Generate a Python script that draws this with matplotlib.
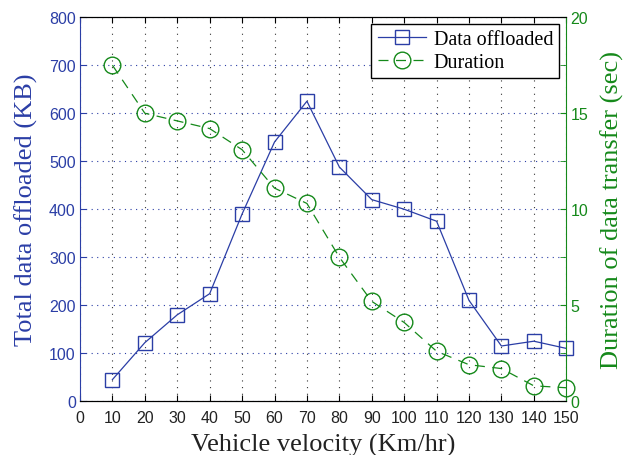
import matplotlib
matplotlib.use("Agg")
import matplotlib.pyplot as plt
from matplotlib.ticker import MultipleLocator

velocity = [10, 20, 30, 40, 50, 60, 70, 80, 90, 100, 110, 120, 130, 140, 150]
data_offloaded = [45, 122, 180, 224, 390, 540, 625, 488, 420, 400, 375, 210, 115, 125, 110]
duration = [17.5, 15.0, 14.6, 14.2, 13.1, 11.1, 10.3, 7.5, 5.2, 4.1, 2.6, 1.9, 1.7, 0.8, 0.7]

blue = "#2b3ea6"
green = "#15891a"

fig = plt.figure(figsize=(6.25, 4.56), dpi=100)
ax = fig.add_axes([0.128, 0.118, 0.778, 0.842])
ax2 = ax.twinx()

l1, = ax.plot(velocity, data_offloaded, color=blue, lw=0.9, marker="s", ms=10,
              mfc="none", mec=blue, mew=1.0, label="Data offloaded", clip_on=False, zorder=3)
l2, = ax2.plot(velocity, duration, color=green, lw=0.9, ls=(0, (8, 6)), marker="o", ms=12,
               mfc="none", mec=green, mew=1.0, label="Duration", clip_on=False, zorder=3)

ax.set_xlim(0, 150)
ax.set_ylim(0, 800)
ax2.set_ylim(0, 20)
ax.xaxis.set_major_locator(MultipleLocator(10))
ax.yaxis.set_major_locator(MultipleLocator(100))
ax2.yaxis.set_major_locator(MultipleLocator(5))
ax2.yaxis.set_minor_locator(MultipleLocator(2.5))

for lab in ax.get_xticklabels():
    lab.set_fontfamily("Liberation Sans"); lab.set_fontsize(11.5)
for lab in ax.get_yticklabels():
    lab.set_fontfamily("Liberation Sans"); lab.set_fontsize(11.5)
for lab in ax2.get_yticklabels():
    lab.set_fontfamily("Liberation Sans"); lab.set_fontsize(11.5)

ax.tick_params(axis="x", direction="in", length=4, colors="black", labelcolor="#222222",
               pad=6, top=True)
ax.tick_params(axis="y", direction="in", length=4, colors=blue, labelcolor=blue, pad=3)
ax2.tick_params(axis="y", which="both", direction="in", length=4, colors=green,
                labelcolor=green, pad=3)

ax.grid(True, axis="x", color="#333333", ls=(0, (1, 5)), lw=0.8)
ax.grid(True, axis="y", color=blue, ls=(0, (1, 4)), lw=0.8)

ax.spines["left"].set_color(blue)
ax.spines["right"].set_visible(False)
ax2.spines["left"].set_visible(False)
ax2.spines["right"].set_color(green)
for sp in ("top", "bottom"):
    ax.spines[sp].set_color("black")
    ax2.spines[sp].set_color("black")

ax.set_xlabel("Vehicle velocity (Km/hr)", family="Liberation Serif", fontsize=19,
              color="#222222", labelpad=6)
ax.set_ylabel("Total data offloaded (KB)", family="Liberation Serif", fontsize=19,
              color=blue, labelpad=8)
ax2.set_ylabel("Duration of data transfer (sec)", family="Liberation Serif", fontsize=19,
               color=green, labelpad=9)

leg = ax2.legend([l1, l2], ["Data offloaded", "Duration"], loc="upper right",
                 prop={"family": "Liberation Serif", "size": 14.5}, fancybox=False,
                 framealpha=1, edgecolor="black", handlelength=2.4, borderpad=0.3,
                 labelspacing=0.2, handletextpad=0.4, borderaxespad=0.0,
                 bbox_to_anchor=(0.986, 0.982))
leg.get_frame().set_linewidth(1.0)

fig.savefig("out.png", dpi=100)
